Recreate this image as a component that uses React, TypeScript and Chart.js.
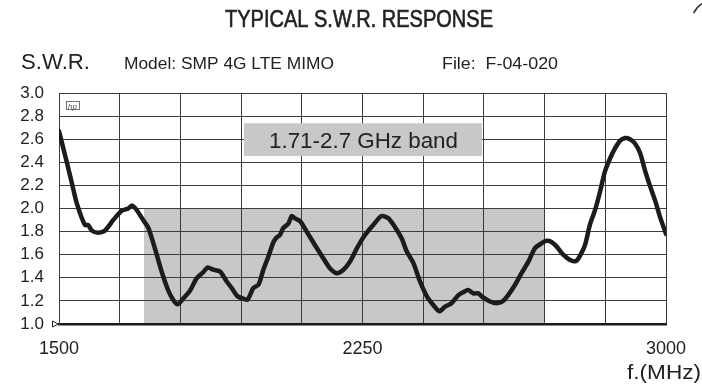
import React, { useEffect, useRef } from "react";
import { Chart, registerables } from "chart.js";

Chart.register(...registerables);

// ---- data ----
const FREQ_MHZ = [
  1500, 1519, 1531, 1544, 1564, 1572, 1581, 1597, 1614, 1634, 1655, 1671, 1681, 1692, 1708, 1721,
  1737, 1754, 1770, 1782, 1793, 1807, 1824, 1840, 1857, 1867, 1881, 1898, 1914, 1927, 1941, 1955,
  1966, 1980, 1993, 2005, 2017, 2030, 2038, 2046, 2054, 2067, 2075, 2083, 2096, 2112, 2133, 2153,
  2170, 2186, 2203, 2219, 2236, 2256, 2277, 2297, 2314, 2330, 2347, 2359, 2376, 2392, 2409, 2425,
  2440, 2454, 2470, 2487, 2499, 2511, 2524, 2536, 2548, 2565, 2581, 2596, 2610, 2627, 2643, 2660,
  2676, 2693, 2705, 2717, 2730, 2746, 2763, 2778, 2789, 2800, 2812, 2825, 2837, 2849, 2862, 2874,
  2886, 2899, 2911, 2923, 2936, 2948, 2960, 2973, 2985, 3000,
];
const SWR = [
  2.67, 2.405, 2.232, 2.045, 1.857, 1.857, 1.81, 1.79, 1.81, 1.9, 1.98, 2.0, 2.025, 1.987, 1.9, 1.83,
  1.655, 1.45, 1.29, 1.21, 1.17, 1.22, 1.29, 1.395, 1.45, 1.49, 1.47, 1.455, 1.37, 1.31, 1.24, 1.22,
  1.21, 1.31, 1.34, 1.47, 1.58, 1.71, 1.75, 1.77, 1.83, 1.87, 1.935, 1.915, 1.89, 1.8, 1.68, 1.57,
  1.48, 1.44, 1.47, 1.54, 1.655, 1.77, 1.86, 1.935, 1.915, 1.84, 1.74, 1.63, 1.525, 1.37, 1.24, 1.165,
  1.11, 1.15, 1.18, 1.25, 1.275, 1.295, 1.265, 1.265, 1.23, 1.195, 1.18, 1.195, 1.25, 1.34, 1.44, 1.54,
  1.655, 1.7, 1.72, 1.71, 1.67, 1.6, 1.555, 1.545, 1.6, 1.685, 1.86, 1.99, 2.145, 2.32, 2.435, 2.52,
  2.585, 2.61, 2.6, 2.565, 2.48, 2.33, 2.2, 2.07, 1.93, 1.78,
];
const X_LABELS = [1500, 2250, 3000];
const BAND_MHZ = [1710, 2700];
const BAND_SWR_TOP = 2.0;
const BAND_LABEL = "1.71-2.7 GHz band";
const TITLE = "TYPICAL S.W.R. RESPONSE";
const Y_TITLE = "S.W.R.";
const MODEL_TEXT = "Model: SMP 4G LTE MIMO";
const FILE_TEXT = "File:  F-04-020";
const X_TITLE = "f.(MHz)";

const INK = "#222222";
const GRID = "#3c3c3c";
const BAND_FILL = "#c8c8c8";
const FONT = "'Liberation Sans', Arial, sans-serif";

function fitText(ctx: CanvasRenderingContext2D, text: string, x: number, baseline: number, width: number, font: string, heavy = false) {
  ctx.save();
  ctx.font = font;
  ctx.textAlign = "left";
  ctx.textBaseline = "alphabetic";
  const w = ctx.measureText(text).width;
  ctx.translate(x, baseline);
  ctx.scale(width / w, 1);
  ctx.fillStyle = INK;
  ctx.fillText(text, 0, 0);
  if (heavy) {
    ctx.strokeStyle = INK;
    ctx.lineWidth = 0.6;
    ctx.strokeText(text, 0, 0);
  }
  ctx.restore();
}

const bandPlugin = {
  id: "bandPlugin",
  beforeDraw(chart: any) {
    const { ctx, scales } = chart;
    const x = scales.x, y = scales.y;
    const x0 = x.getPixelForValue(BAND_MHZ[0]);
    const x1 = x.getPixelForValue(BAND_MHZ[1]);
    const y0 = y.getPixelForValue(BAND_SWR_TOP);
    const y1 = y.getPixelForValue(1.0);
    ctx.save();
    ctx.fillStyle = BAND_FILL;
    ctx.fillRect(x0, y0, x1 - x0, y1 - y0);
    ctx.restore();
  },
  beforeDatasetsDraw(chart: any) {
    const { ctx, scales } = chart;
    const x = scales.x, y = scales.y;
    const bx0 = x.getPixelForValue(1957);
    const bx1 = x.getPixelForValue(2545);
    const by0 = y.getPixelForValue(2.738);
    const by1 = y.getPixelForValue(2.455);
    ctx.save();
    ctx.fillStyle = BAND_FILL;
    ctx.fillRect(bx0, by0, bx1 - bx0, by1 - by0);
    ctx.restore();
    fitText(ctx, BAND_LABEL, 269, 148, 189, `22px ${FONT}`);
  },
  afterDraw(chart: any) {
    const { ctx, scales } = chart;
    fitText(ctx, TITLE, 225, 27, 268, `24px ${FONT}`, true);
    fitText(ctx, Y_TITLE, 21, 69, 69, `22px ${FONT}`);
    fitText(ctx, MODEL_TEXT, 124, 68.5, 210, `16px ${FONT}`);
    fitText(ctx, FILE_TEXT, 442, 68.5, 116, `16px ${FONT}`);
    fitText(ctx, X_TITLE, 627, 379, 74, `20px ${FONT}`);

    const ty = scales.y.getPixelForValue(1.0);
    ctx.save();
    ctx.strokeStyle = INK;
    ctx.lineWidth = 1;
    ctx.beginPath();
    ctx.moveTo(52.5, ty - 3);
    ctx.lineTo(58, ty);
    ctx.lineTo(52.5, ty + 3);
    ctx.closePath();
    ctx.stroke();

    ctx.strokeStyle = "#555";
    ctx.lineWidth = 0.8;
    ctx.strokeRect(66.5, 101.5, 13, 8);
    ctx.fillStyle = "#555";
    ctx.font = `italic 8px ${FONT}`;
    ctx.textBaseline = "alphabetic";
    ctx.fillText("hp", 68, 108.5);

    ctx.strokeStyle = "#333";
    ctx.lineWidth = 1.5;
    ctx.beginPath();
    ctx.arc(715, 24, 24, Math.PI * 1.15, Math.PI * 1.42);
    ctx.stroke();
    ctx.restore();
  },
};

export default function App() {
  const ref = useRef<HTMLCanvasElement | null>(null);

  useEffect(() => {
    document.body.style.margin = "0";
    const canvas = ref.current;
    if (!canvas) return;
    const points = FREQ_MHZ.map((f, i) => ({ x: f, y: SWR[i] }));
    const chart = new Chart(canvas, {
      type: "line",
      data: {
        datasets: [
          {
            data: points,
            borderColor: "#1c1c1c",
            borderWidth: 4.5,
            pointRadius: 0,
            tension: 0.25,
            borderJoinStyle: "round",
            borderCapStyle: "round",
            fill: false,
          },
        ],
      },
      options: {
        animation: false,
        responsive: false,
        maintainAspectRatio: false,
        layout: { padding: { top: 93, right: 36, left: 0, bottom: 0 } },
        plugins: { legend: { display: false }, tooltip: { enabled: false }, title: { display: false } },
        scales: {
          x: {
            type: "linear",
            min: 1500,
            max: 3000,
            afterFit: (s: any) => {
              s.height = 62;
            },
            ticks: {
              stepSize: 150,
              autoSkip: false,
              maxRotation: 0,
              padding: 14,
              color: INK,
              font: { family: FONT, size: 18 },
              callback: (v: any) => (X_LABELS.includes(Number(v)) ? String(v) : ""),
            },
            grid: { color: GRID, lineWidth: 1, drawTicks: false },
            border: { color: "#1a1a1a", width: 2.5 },
          },
          y: {
            type: "linear",
            min: 1.0,
            max: 3.0,
            afterFit: (s: any) => {
              s.width = 59;
            },
            ticks: {
              stepSize: 0.2,
              autoSkip: false,
              padding: 15,
              color: INK,
              font: { family: FONT, size: 17 },
              callback: (v: any) => Number(v).toFixed(1),
            },
            grid: { color: GRID, lineWidth: 1, drawTicks: false },
            border: { color: GRID, width: 1 },
          },
        },
      },
      plugins: [bandPlugin],
    });
    return () => chart.destroy();
  }, []);

  return (
    <div style={{ width: 702, height: 386, background: "#fff" }}>
      <canvas ref={ref} width={702} height={386} style={{ display: "block" }} />
    </div>
  );
}
